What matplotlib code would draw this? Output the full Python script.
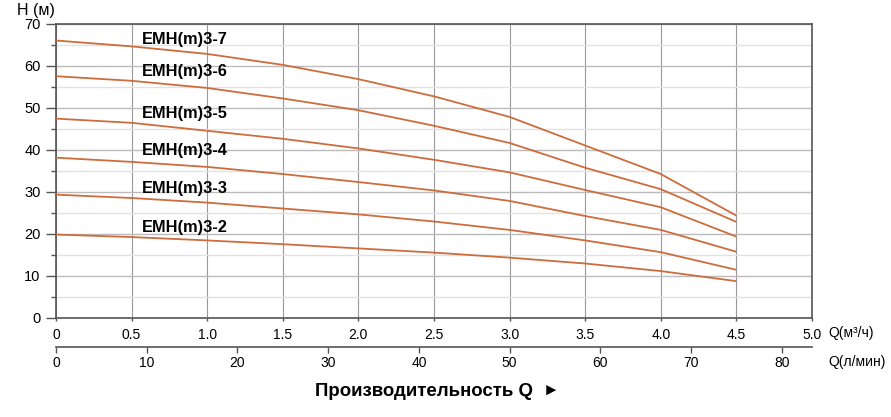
import matplotlib
matplotlib.use("Agg")
import matplotlib.pyplot as plt
from matplotlib.ticker import MultipleLocator

plt.rcParams['font.family'] = ['Liberation Sans', 'DejaVu Sans']

# flow, m3/h
q = [0, 0.5, 1.0, 1.5, 2.0, 2.5, 3.0, 3.5, 4.0, 4.5]

# head, m
h_3_7 = [66.0, 64.6, 62.8, 60.2, 56.8, 52.7, 47.8, 41.0, 34.2, 24.3]
h_3_6 = [57.5, 56.4, 54.7, 52.2, 49.4, 45.7, 41.6, 35.7, 30.6, 22.8]
h_3_5 = [47.4, 46.4, 44.5, 42.6, 40.3, 37.6, 34.6, 30.4, 26.3, 19.3]
h_3_4 = [38.1, 37.1, 35.9, 34.2, 32.3, 30.3, 27.8, 24.2, 20.9, 15.7]
h_3_3 = [29.3, 28.5, 27.4, 26.0, 24.6, 22.9, 20.9, 18.4, 15.6, 11.4]
h_3_2 = [19.8, 19.2, 18.4, 17.5, 16.5, 15.5, 14.3, 12.9, 11.1, 8.7]

names = ["EMH(m)3-7", "EMH(m)3-6", "EMH(m)3-5", "EMH(m)3-4", "EMH(m)3-3", "EMH(m)3-2"]
curves = [h_3_7, h_3_6, h_3_5, h_3_4, h_3_3, h_3_2]

q_ticks = [0, 0.5, 1.0, 1.5, 2.0, 2.5, 3.0, 3.5, 4.0, 4.5, 5.0]
q_labels = ["0", "0.5", "1.0", "1.5", "2.0", "2.5", "3.0", "3.5", "4.0", "4.5", "5.0"]
lmin_ticks = [0, 10, 20, 30, 40, 50, 60, 70, 80]

W, H = 891, 417
fig = plt.figure(figsize=(W / 100, H / 100), dpi=100)

left = 56 / W
right = 812 / W
bot = 1 - 317.7 / H
top = 1 - 23.7 / H
ax = fig.add_axes([left, bot, right - left, top - bot])

line_col = '#cd6c3c'
for hv in curves:
    ax.plot(q, hv, color=line_col, lw=1.3, zorder=3, solid_capstyle='butt',
            solid_joinstyle='round')

# curve names
label_y = [66.3, 58.6, 48.7, 39.7, 30.8, 21.5]
for name, yy in zip(names, label_y):
    ax.text(0.57, yy, name, fontsize=11.8, fontweight='bold', va='center', ha='left', zorder=4)

ax.set_xlim(0, 5)
ax.set_ylim(0, 70)
ax.set_xticks(q_ticks)
ax.set_xticklabels(q_labels)
ax.yaxis.set_major_locator(MultipleLocator(10))
ax.yaxis.set_minor_locator(MultipleLocator(5))

ax.grid(axis='x', which='major', color='#999999', lw=0.8)
ax.grid(axis='y', which='major', color='#bcbcbc', lw=1.0)
ax.grid(axis='y', which='minor', color='#e2e2e2', lw=1.0)
ax.set_axisbelow(True)

for s in ax.spines.values():
    s.set_color('#555555')
    s.set_linewidth(1.2)

ax.tick_params(axis='y', which='major', length=7, width=1, color='#555555', pad=4, labelsize=10.5)
ax.tick_params(axis='y', which='minor', length=3.5, width=1, color='#555555')
ax.tick_params(axis='x', which='major', length=2.5, width=1, color='#555555', pad=5, labelsize=10)

fig.text(17 / W, 1 - 11 / H, "H (м)", fontsize=11.5, va='center', ha='left')
fig.text(828 / W, 1 - 333.3 / H, "Q(м³/ч)", fontsize=10, va='center', ha='left')

# second flow scale, l/min
ax2 = fig.add_axes([left, 1 - 346.7 / H, right - left, 0.001])
ax2.set_xlim(0, 5 * 1000 / 60)
ax2.set_xticks(lmin_ticks)
ax2.set_yticks([])
for k in ['top', 'left', 'right']:
    ax2.spines[k].set_visible(False)
ax2.spines['bottom'].set_color('#555555')
ax2.spines['bottom'].set_linewidth(1.2)
ax2.tick_params(axis='x', length=4, width=1, color='#555555', pad=3, labelsize=10)
ax2.patch.set_alpha(0)
fig.text(828 / W, 1 - 361.7 / H, "Q(л/мин)", fontsize=10, va='center', ha='left')

fig.text(315 / W, 1 - 391.7 / H, "Производительность Q", fontsize=13.4, fontweight='bold',
         va='center', ha='left')
fig.text(551 / W, 1 - 391.7 / H, "►", fontsize=12, va='center', ha='center',
         family=['Liberation Sans', 'DejaVu Sans'])

fig.savefig("out.png", dpi=100)
